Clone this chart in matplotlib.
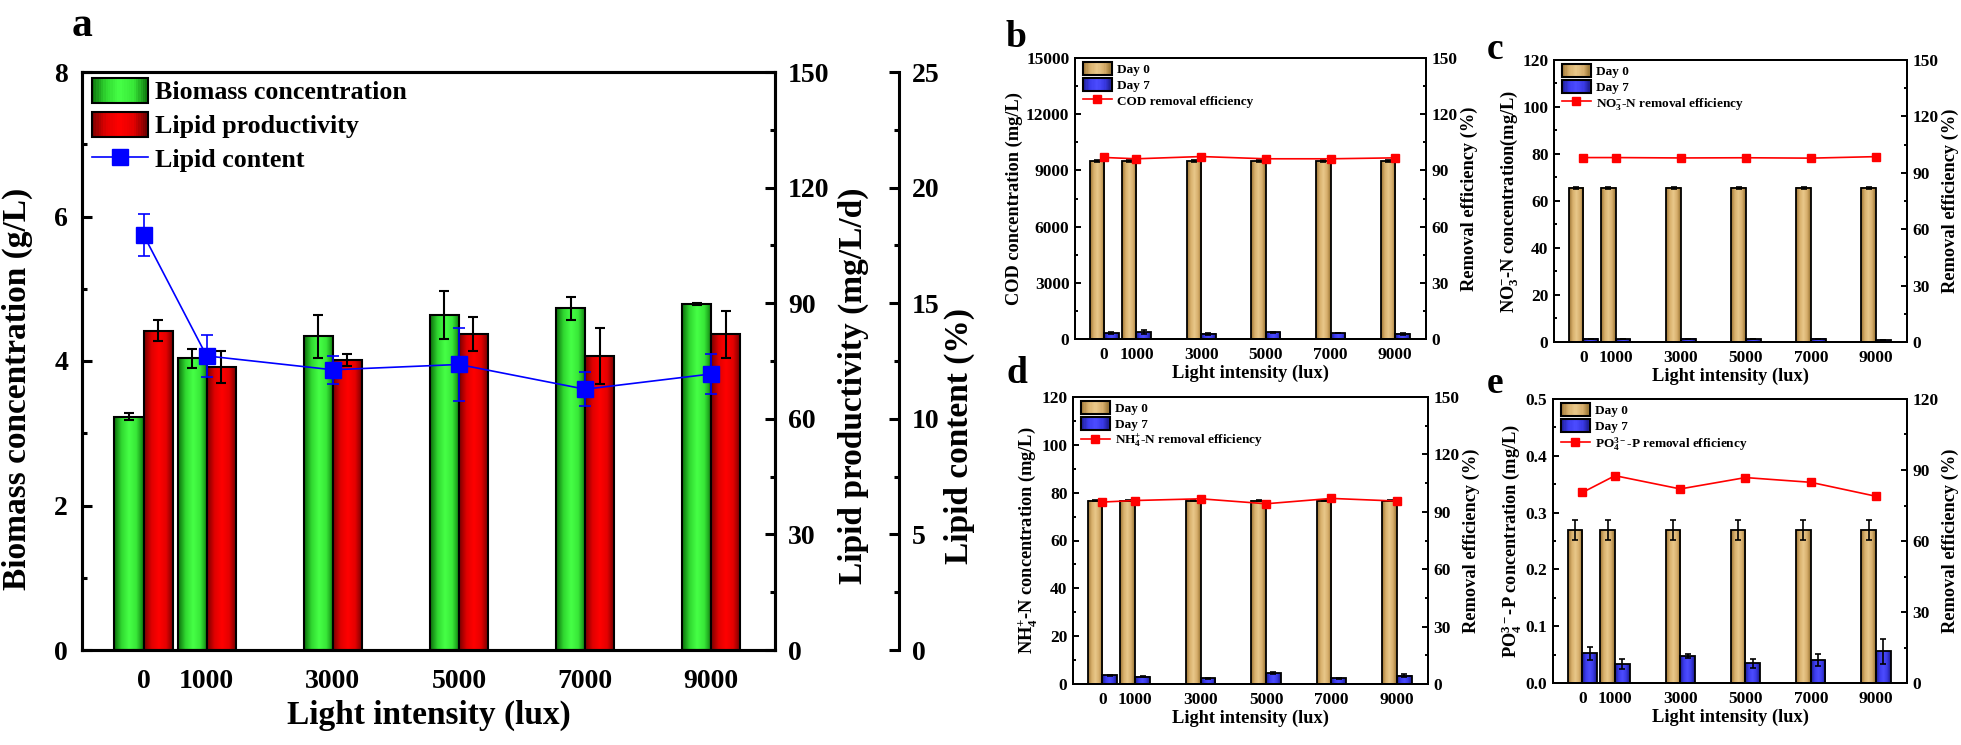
import numpy as np
import matplotlib
matplotlib.use('Agg')
import matplotlib.pyplot as plt
from matplotlib.colors import LinearSegmentedColormap
from matplotlib.patches import Rectangle
from matplotlib.lines import Line2D
from matplotlib.legend_handler import HandlerBase
from matplotlib.ticker import MultipleLocator, FormatStrFormatter

plt.rcParams['font.family'] = 'Liberation Serif'
plt.rcParams['font.weight'] = 'bold'
plt.rcParams['axes.labelweight'] = 'bold'
plt.rcParams['mathtext.fontset'] = 'custom'
plt.rcParams['mathtext.rm'] = 'Liberation Serif:bold'
plt.rcParams['mathtext.it'] = 'Liberation Serif:italic:bold'
plt.rcParams['mathtext.bf'] = 'Liberation Serif:bold'

# light intensity (lux)
lux = np.array([0, 1000, 3000, 5000, 7000, 9000])
lux_labels = ['0', '1000', '3000', '5000', '7000', '9000']

# panel a
biomass = [3.23, 4.04, 4.34, 4.64, 4.73, 4.79]
biomass_err = [0.05, 0.13, 0.30, 0.33, 0.16, 0.01]
lipid_prod = [82.9, 73.4, 75.2, 81.9, 76.3, 81.9]
lipid_prod_err = [2.8, 4.2, 1.6, 4.4, 7.2, 6.0]
lipid_content = [17.96, 12.72, 12.12, 12.35, 11.28, 11.94]
lipid_content_err = [0.9, 0.9, 0.6, 1.56, 0.74, 0.86]

# panel b - COD
cod_d0 = [9480, 9480, 9480, 9480, 9480, 9480]
cod_d0_err = [50, 50, 50, 50, 50, 50]
cod_d7 = [320, 370, 270, 350, 320, 290]
cod_d7_err = [60, 120, 40, 50, 20, 50]
cod_rem = [96.9, 96.2, 97.4, 96.2, 96.2, 96.7]

# panel c - NO3-N
no3_d0 = [65.6, 65.6, 65.6, 65.6, 65.6, 65.6]
no3_d0_err = [0.5, 0.5, 0.5, 0.5, 0.5, 0.5]
no3_d7 = [1.3, 1.2, 1.3, 1.2, 1.3, 0.8]
no3_d7_err = [0.1, 0.1, 0.1, 0.1, 0.1, 0.1]
no3_rem = [98.1, 98.1, 97.9, 98.0, 97.8, 98.6]

# panel d - NH4-N
nh4_d0 = [76.7, 76.7, 76.7, 76.7, 76.7, 76.7]
nh4_d0_err = [0.3, 0.3, 0.3, 0.3, 0.3, 0.3]
nh4_d7 = [3.6, 3.0, 2.4, 4.5, 2.4, 3.5]
nh4_d7_err = [0.2, 0.2, 0.3, 0.4, 0.2, 0.7]
nh4_rem = [95.1, 95.9, 96.8, 94.2, 97.0, 95.6]

# panel e - PO4-P
po4_d0 = [0.2685, 0.2685, 0.2685, 0.2685, 0.2685, 0.2685]
po4_d0_err = [0.0176, 0.0176, 0.0176, 0.0176, 0.0176, 0.0176]
po4_d7 = [0.052, 0.033, 0.0475, 0.035, 0.040, 0.056]
po4_d7_err = [0.011, 0.009, 0.004, 0.008, 0.0105, 0.022]
po4_rem = [80.5, 87.6, 82.0, 86.8, 84.8, 78.9]

# gradient colours (Origin style)
green_cm = LinearSegmentedColormap.from_list('g', ['#0b6e0b', '#30d830', '#46ff46', '#38e838', '#0d780d'])
red_cm = LinearSegmentedColormap.from_list('r', ['#780000', '#e00000', '#ff0000', '#e40000', '#6c0000'])
tan_cm = LinearSegmentedColormap.from_list('t', ['#9a7232', '#d8b06c', '#e9c88a', '#d6ae6c', '#94702e'])
blue_cm = LinearSegmentedColormap.from_list('b', ['#1c1c8a', '#3c3cee', '#4c4cff', '#3a3ae6', '#1a1a88'])

W, H = 1961, 745
fig = plt.figure(figsize=(W / 100, H / 100), dpi=100)


def rect(l, t, r, b):
    return [l / W, 1 - b / H, (r - l) / W, (b - t) / H]


def shade(ax, bars, cm):
    g = np.linspace(0, 1, 64).reshape(1, -1)
    for b in bars:
        x, y, w, h = b.get_x(), b.get_y(), b.get_width(), b.get_height()
        ax.imshow(g, cmap=cm, extent=[x, x + w, y, y + h], aspect='auto',
                  interpolation='bilinear', zorder=2)


class GradHandler(HandlerBase):
    def __init__(self, cm):
        super().__init__()
        self.cm = cm

    def create_artists(self, legend, orig_handle, xdescent, ydescent,
                       width, height, fontsize, trans):
        arts = []
        n = 24
        for i in range(n):
            arts.append(Rectangle((-xdescent + width * i / n, -ydescent), width / n + 0.3, height,
                                  fc=self.cm((i + 0.5) / n), ec='none', transform=trans))
        arts.append(Rectangle((-xdescent, -ydescent), width, height, fc='none',
                              ec='black', lw=1.5, transform=trans))
        return arts


def style(ax, fs, width, major, minor, pad):
    for s in ax.spines.values():
        s.set_linewidth(width)
    ax.tick_params(axis='y', which='major', direction='in', length=major, width=width,
                   labelsize=fs, pad=pad)
    ax.tick_params(axis='y', which='minor', direction='in', length=minor, width=width)


# ---------------- panel a ----------------
ax = fig.add_axes(rect(82, 72, 775, 650))
bw = 460
g_bars = ax.bar(lux - bw / 2, biomass, bw, facecolor='none', edgecolor='black', lw=1.5, zorder=3)
shade(ax, g_bars, green_cm)
ax.errorbar(lux - bw / 2, biomass, yerr=biomass_err, fmt='none', ecolor='black',
            elinewidth=1.5, capsize=3.5, capthick=1.5, zorder=4)
ax.set_xlim(-975, 10010)
ax.set_ylim(0, 8)
ax.yaxis.set_major_locator(MultipleLocator(2))
ax.yaxis.set_minor_locator(MultipleLocator(1))
ax.set_xticks(lux)
ax.set_xticklabels(lux_labels)
ax.tick_params(axis='x', length=0, labelsize=20, pad=14)
style(ax, 20, 2.2, 7, 3.5, 10)
ax.set_ylabel('Biomass concentration (g/L)', fontsize=24)
ax.yaxis.set_label_coords(-0.07, 0.451)
ax.set_xlabel('Light intensity (lux)', fontsize=24, labelpad=4)

ax2 = ax.twinx()
r_bars = ax2.bar(lux + bw / 2, lipid_prod, bw, facecolor='none', edgecolor='black', lw=1.5, zorder=3)
shade(ax2, r_bars, red_cm)
ax2.errorbar(lux + bw / 2, lipid_prod, yerr=lipid_prod_err, fmt='none', ecolor='black',
             elinewidth=1.5, capsize=3.5, capthick=1.5, zorder=4)
ax2.set_xlim(-975, 10010)
ax2.set_ylim(0, 150)
ax2.yaxis.set_major_locator(MultipleLocator(30))
ax2.yaxis.set_minor_locator(MultipleLocator(15))
style(ax2, 20, 2.2, 7, 3.5, 9.5)
ax2.set_ylabel('Lipid productivity (mg/L/d)', fontsize=24)
ax2.yaxis.set_label_coords(1.091, 0.458)

ax3 = ax.twinx()
ax3.spines['right'].set_position(('axes', 1.179))
for s in ['top', 'left', 'bottom']:
    ax3.spines[s].set_visible(False)
ax3.errorbar(lux, lipid_content, yerr=lipid_content_err, color='#0000ff', ecolor='#0000ff',
             marker='s', ms=11.5, lw=1.2, elinewidth=1.2, capsize=4, capthick=1.2, zorder=5)
ax3.set_xlim(-975, 10010)
ax3.set_ylim(0, 25)
ax3.yaxis.set_major_locator(MultipleLocator(5))
ax3.yaxis.set_minor_locator(MultipleLocator(2.5))
style(ax3, 20, 2.2, 7, 3.5, 9.5)
ax3.set_ylabel('Lipid content (%)', fontsize=24)
ax3.yaxis.set_label_coords(1.243, 0.37)

pg = Rectangle((0, 0), 1, 1)
pr = Rectangle((0, 0), 1, 1)
pl = Line2D([], [], color='#0000ff', marker='s', ms=11.5, lw=1.2)
ax3.legend([pg, pr, pl], ['Biomass concentration', 'Lipid productivity', 'Lipid content'],
           handler_map={pg: GradHandler(green_cm), pr: GradHandler(red_cm)},
           loc='upper left', bbox_to_anchor=(0.014, 0.99), frameon=False, fontsize=18.7,
           handlelength=2.15, handleheight=1.1, handletextpad=0.3, labelspacing=0.3,
           borderpad=0, borderaxespad=0)


# ---------------- panels b-e ----------------
def panel(r, d0, d0e, d7, d7e, rem, ylab, leglab, ylim, ymaj, ymin, rlim, rmaj, rmin, yfmt=None):
    a = fig.add_axes(r)
    w = 450
    b0 = a.bar(lux - w / 2, d0, w, facecolor='none', edgecolor='black', lw=1.3, zorder=3)
    shade(a, b0, tan_cm)
    b7 = a.bar(lux + w / 2, d7, w, facecolor='none', edgecolor='black', lw=1.3, zorder=3)
    shade(a, b7, blue_cm)
    a.errorbar(lux - w / 2, d0, yerr=d0e, fmt='none', ecolor='black', elinewidth=1.2,
               capsize=2.5, capthick=1.2, zorder=4)
    a.errorbar(lux + w / 2, d7, yerr=d7e, fmt='none', ecolor='black', elinewidth=1.2,
               capsize=2.5, capthick=1.2, zorder=4)
    a.set_xlim(-900, 9950)
    a.set_ylim(*ylim)
    a.yaxis.set_major_locator(MultipleLocator(ymaj))
    a.yaxis.set_minor_locator(MultipleLocator(ymin))
    if yfmt:
        a.yaxis.set_major_formatter(FormatStrFormatter(yfmt))
    a.set_xticks(lux)
    a.set_xticklabels(lux_labels)
    a.tick_params(axis='x', length=0, labelsize=12.5, pad=6)
    style(a, 12.5, 1.4, 4, 2.2, 4)
    a.set_ylabel(ylab, fontsize=13.2, labelpad=2)
    a.set_xlabel('Light intensity (lux)', fontsize=13.2, labelpad=1)

    ar = a.twinx()
    ar.plot(lux, rem, color='#ff0000', marker='s', ms=6, lw=1.2, zorder=5)
    ar.set_xlim(-900, 9950)
    ar.set_ylim(*rlim)
    ar.yaxis.set_major_locator(MultipleLocator(rmaj))
    ar.yaxis.set_minor_locator(MultipleLocator(rmin))
    style(ar, 12.5, 1.4, 4, 2.2, 4)
    ar.set_ylabel('Removal efficiency (%)', fontsize=13.2, labelpad=2)

    p0 = Rectangle((0, 0), 1, 1)
    p7 = Rectangle((0, 0), 1, 1)
    pline = Line2D([], [], color='#ff0000', marker='s', ms=6, lw=1.2)
    ar.legend([p0, p7, pline], ['Day 0', 'Day 7', leglab],
              handler_map={p0: GradHandler(tan_cm), p7: GradHandler(blue_cm)},
              loc='upper left', bbox_to_anchor=(0.022, 0.985), frameon=False, fontsize=9.5,
              handlelength=2.2, handleheight=1.1, handletextpad=0.4, labelspacing=0.15,
              borderpad=0, borderaxespad=0)
    return a


panel(rect(1075, 58, 1426, 339), cod_d0, cod_d0_err, cod_d7, cod_d7_err, cod_rem,
      'COD concentration (mg/L)', 'COD removal efficiency',
      (0, 15000), 3000, 1500, (0, 150), 30, 15)
panel(rect(1554, 60, 1907, 342), no3_d0, no3_d0_err, no3_d7, no3_d7_err, no3_rem,
      'NO$_3^{-}$-N concentration(mg/L)', 'NO$_3^{-}$-N removal efficiency',
      (0, 120), 20, 10, (0, 150), 30, 15)
panel(rect(1073, 397, 1428, 684), nh4_d0, nh4_d0_err, nh4_d7, nh4_d7_err, nh4_rem,
      'NH$_4^{+}$-N concentration (mg/L)', 'NH$_4^{+}$-N removal efficiency',
      (0, 120), 20, 10, (0, 150), 30, 15)
panel(rect(1553, 399, 1907, 683), po4_d0, po4_d0_err, po4_d7, po4_d7_err, po4_rem,
      'PO$_4^{3-}$-P concentration (mg/L)', 'PO$_4^{3-}$-P removal efficiency',
      (0, 0.5), 0.1, 0.05, (0, 120), 30, 15, yfmt='%.1f')

# panel letters
for t, x, y, fs in [('a', 72, 36, 30), ('b', 1006, 47, 27), ('c', 1487, 59, 27),
                    ('d', 1006, 383, 27), ('e', 1487, 393, 27)]:
    fig.text(x / W, 1 - y / H, t, fontsize=fs, fontweight='bold', va='baseline', ha='left')

fig.savefig('out.png', dpi=100)
